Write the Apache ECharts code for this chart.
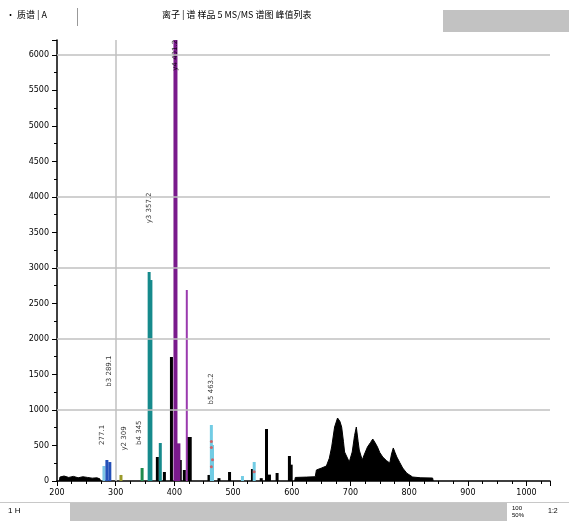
<!DOCTYPE html>
<html><head><meta charset="utf-8">
<script src="https://cdn.jsdelivr.net/npm/echarts@6/dist/echarts.min.js"></script>
<style>html,body{margin:0;padding:0;background:#fff}#c{width:569px;height:521px}</style>
</head><body><div id="c"></div>
<script>
// m/z axis ticks
const xTicks = [200, 300, 400, 500, 600, 700, 800, 900, 1000];
const yTicks = [0, 500, 1000, 1500, 2000, 2500, 3000, 3500, 4000, 4500, 5000, 5500, 6000];
const gridLinesY = [1000, 2000, 3000, 4000, 6000];
const markerX = [300];

// black stick peaks [m/z, intensity]
const blackSticks = [[371, 338], [383, 127], [395, 1746], [410, 296], [417, 155], [424, 620], [427, 620],
  [459, 85], [476, 40], [494, 127], [533, 169], [548, 40], [557, 732], [562, 90], [575, 113], [596, 352], [599, 230]];
// black continuous regions (baseline noise and broad envelope)
const blackNoise = [[204, 0], [205, 55], [212, 70], [220, 50], [228, 65], [236, 45], [244, 60], [252, 50], [260, 40], [268, 45], [273, 30], [274, 0]];
const blackEnvelope = [[605, 0], [606, 50], [625, 55], [640, 60], [642, 155], [650, 180], [659, 211], [664, 320], [668, 479], [673, 760], [678, 887],
  [682, 840], [685, 760], [688, 560], [690, 408], [698, 268], [703, 408], [707, 640], [710, 760], [713, 560], [715, 436], [720, 296], [724, 380],
  [729, 479], [734, 540], [738, 591], [742, 540], [746, 479], [750, 400], [755, 338], [761, 290], [767, 253], [770, 380], [773, 465], [776, 400],
  [779, 338], [784, 260], [789, 183], [796, 110], [806, 56], [820, 45], [840, 42], [841, 0]];
const blueSticks = [[285, 296], [290, 267]];
const lightBlueSticks = [[280, 211]];
const oliveSticks = [[309, 85]];
const greenSticks = [[345, 183]];
const tealSticks = [[357, 2943], [360, 2830], [376, 535]];
const purpleSticks = [[401, 9000], [406, 530]];
const lightPurpleSticks = [[422, 2690]];
const cyanSticks = [[463, 789], [465, 507], [516, 70], [536, 268]];
const redDots = [[463, 555], [463, 470], [463, 200], [536, 130], [465, 300]];
// peak annotations [m/z, intensity, text]
const annX = [289, 277, 314, 340, 357, 401, 463];
const annY = [1300, 480, 400, 480, 3600, 5750, 1050];
const annText = ['b3 289.1', '277.1', 'y2 309', 'b4 345', 'y3 357.2', 'y4 401.2', 'b5 463.2'];

const chart = echarts.init(document.getElementById('c'));
const stick = (name, data, color, w) => ({
  name, type: 'bar', data, barWidth: w || 2, barGap: '-100%', itemStyle: { color }, silent: true, animation: false
});
const area = (name, data) => ({
  name, type: 'line', data, symbol: 'none', lineStyle: { color: '#000', width: 1 },
  areaStyle: { color: '#000', opacity: 1 }, animation: false, silent: true
});
const annData = annX.map((x, i) => ({ value: [x, annY[i]], name: annText[i] }));
chart.setOption({
  animation: false,
  textStyle: { fontFamily: 'DejaVu Sans' },
  grid: { left: 57, right: 19, top: 40, bottom: 40 },
  xAxis: {
    type: 'value', min: 200, max: 1040, interval: 100,
    axisLine: { onZero: false, lineStyle: { color: '#000', width: 1.5 } },
    axisTick: { show: true, length: 5, lineStyle: { color: '#000' } },
    minorTick: { show: true, splitNumber: 4, length: 3, lineStyle: { color: '#000' } },
    axisLabel: { color: '#000', fontSize: 8, margin: 8, showMaxLabel: false, formatter: v => xTicks.includes(v) ? String(v) : '' },
    splitLine: { show: false }
  },
  yAxis: {
    type: 'value', min: 0, max: 6210, interval: 500,
    axisLine: { show: true, lineStyle: { color: '#000', width: 1.5 } },
    axisTick: { show: true, length: 5, lineStyle: { color: '#000' } },
    minorTick: { show: true, splitNumber: 2, length: 3, lineStyle: { color: '#000' } },
    axisLabel: { color: '#000', fontSize: 8, margin: 8, showMaxLabel: false, formatter: v => yTicks.includes(v) ? String(v) : '' },
    splitLine: { show: false }
  },
  series: [
    {
      type: 'line', data: [], silent: true,
      markLine: {
        symbol: 'none', silent: true, label: { show: false },
        lineStyle: { color: '#c0c0c0', type: 'solid', width: 1.5 },
        data: gridLinesY.map(v => ({ yAxis: v })).concat(markerX.map(v => ({ xAxis: v })))
      }
    },
    area('noise', blackNoise),
    area('envelope', blackEnvelope),
    stick('black', blackSticks, '#000', 3),
    stick('lightblue', lightBlueSticks, '#7cc4e4', 3),
    stick('blue', blueSticks, '#2450b8', 3),
    stick('olive', oliveSticks, '#9a9a2a', 3),
    stick('green', greenSticks, '#1f8a4c', 3),
    stick('teal', tealSticks, '#168a8c', 3),
    stick('purple', purpleSticks, '#7a1a8c', 4),
    stick('lightpurple', lightPurpleSticks, '#9a3aae', 2),
    stick('cyan', cyanSticks, '#72cce4', 3),
    {
      type: 'scatter', data: redDots, symbolSize: 3, itemStyle: { color: '#e24848' }, silent: true
    },
    {
      type: 'scatter', data: annData, symbolSize: 0, silent: true,
      label: { show: true, position: 'top', rotate: 90, fontSize: 7, color: '#000', align: 'left', verticalAlign: 'middle', formatter: p => p.name, distance: 2 }
    }
  ],
  graphic: [
    { type: 'text', left: 6, top: 10, style: { text: '• 质谱 | A', fontSize: 9, fill: '#000', fontFamily: 'Noto Sans CJK SC' } },
    { type: 'rect', shape: { x: 77, y: 8, width: 1, height: 18 }, style: { fill: '#999' } },
    { type: 'text', left: 162, top: 10, style: { text: '离子 | 谱 样品 5 MS/MS 谱图 峰值列表', fontSize: 9, fill: '#000', fontFamily: 'Noto Sans CJK SC' } },
    { type: 'rect', shape: { x: 443, y: 10, width: 126, height: 22 }, style: { fill: '#c2c2c2' } },
    { type: 'rect', shape: { x: 0, y: 502, width: 569, height: 1 }, style: { fill: '#c8c8c8' } },
    { type: 'rect', shape: { x: 70, y: 503, width: 437, height: 18 }, style: { fill: '#c4c4c4' } },
    { type: 'text', left: 8, top: 507, style: { text: '1 H', fontSize: 8, fill: '#000' } },
    { type: 'text', left: 512, top: 505, style: { text: '100\n50%', fontSize: 6, fill: '#000', lineHeight: 7 } },
    { type: 'text', left: 548, top: 508, style: { text: '1:2', fontSize: 7, fill: '#000' } }
  ]
});
</script></body></html>
